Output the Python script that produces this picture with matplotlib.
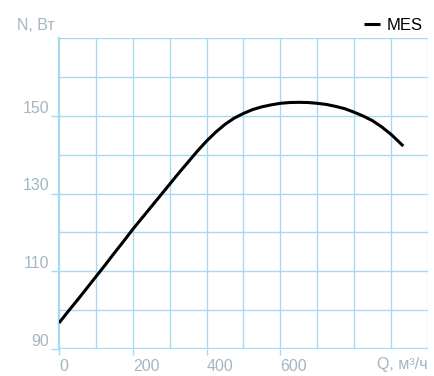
import matplotlib
matplotlib.use("Agg")
import matplotlib.pyplot as plt

# fan curve: power vs flow
q_flow = [0, 25, 50, 75, 100, 125, 150, 175, 200, 225, 250, 275, 300, 325, 350, 375,
          400, 425, 450, 475, 500, 525, 550, 575, 600, 625, 650, 675, 700, 725, 750,
          775, 800, 825, 850, 875, 900, 920, 933]
n_power = [96.7, 99.7, 102.6, 105.6, 108.6, 111.6, 114.7, 117.7, 120.8, 123.7, 126.6, 129.5,
           132.4, 135.3, 138.1, 140.9, 143.5, 145.8, 147.8, 149.4, 150.6, 151.6, 152.3, 152.8,
           153.2, 153.4, 153.45, 153.4, 153.2, 152.9, 152.4, 151.8, 150.9, 149.9, 148.7,
           147.1, 145.2, 143.4, 142.2]

x_ticks = [0, 200, 400, 600]
y_ticks = [90, 110, 130, 150]
series_name = "MES"

grid_col = "#a9d9f0"
text_col = "#a3b6c4"
plt.rcParams["font.family"] = ["Liberation Sans", "DejaVu Sans"]

fig = plt.figure(figsize=(4.35, 3.76), dpi=100)
ax = fig.add_axes([59 / 435, 27 / 376, 369 / 435, 311 / 376])
ax.set_xlim(0, 1000)
ax.set_ylim(90, 170)

for x in range(100, 1001, 100):
    ax.axvline(x, color=grid_col, lw=1.0, zorder=1)
for y in range(100, 171, 10):
    ax.axhline(y, color=grid_col, lw=1.0, zorder=1)

for side in ["top", "right", "bottom"]:
    ax.spines[side].set_visible(False)
ax.spines["left"].set_color(grid_col)
ax.spines["left"].set_linewidth(1.6)
ax.axhline(90, color=grid_col, lw=1.6, zorder=1)

ax.plot(q_flow, n_power, color="black", lw=2.2, solid_joinstyle="round",
        solid_capstyle="butt", zorder=3, label=series_name)

ax.set_xticks(x_ticks)
ax.set_xticklabels([str(v) for v in x_ticks], ha="left")
ax.set_yticks(y_ticks)
ax.set_yticklabels([str(v) for v in y_ticks], va="bottom")
ax.tick_params(axis="x", colors=grid_col, labelcolor=text_col, length=4, width=1.0, pad=3, labelsize=11.5)
ax.tick_params(axis="y", colors=grid_col, labelcolor=text_col, length=6, width=1.0, pad=1, labelsize=11.5)

fig.text(55 / 435, 1 - 25 / 376, "N, Вт", color=text_col, fontsize=11.5, ha="right", va="center")
fig.text(428 / 435, 1 - 364 / 376, "Q, м³/ч", color=text_col, fontsize=11.5, ha="right", va="center")

ax.legend(loc="lower right", bbox_to_anchor=(1.0, 1.0), frameon=False, fontsize=12,
          handlelength=1.0, handletextpad=0.4, borderaxespad=0.2, borderpad=0.1)

fig.savefig("out.png", dpi=100)
